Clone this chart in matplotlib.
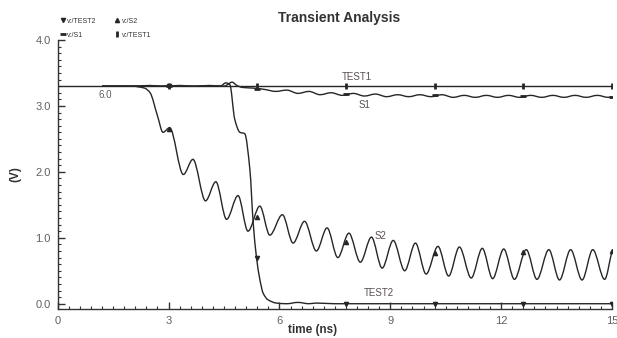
import numpy as np
import matplotlib
matplotlib.use("Agg")
import matplotlib.pyplot as plt
from matplotlib.path import Path
from matplotlib.patches import PathPatch
from matplotlib.ticker import MultipleLocator, FormatStrFormatter

plt.rcParams['font.family'] = ['Liberation Sans', 'DejaVu Sans']

# waveform key points (time in ns, volts)
test1_t = [0.0, 15.0]
test1_v = [3.3, 3.3]

s1_t = [1.2, 2.0, 2.5, 2.8, 3.3, 3.7, 4.1, 4.5, 4.72, 4.85, 5.0, 5.3, 5.6,
        5.9, 6.2, 6.5, 6.8, 7.1, 7.4, 7.7, 8.0, 8.3, 8.6, 8.9, 9.2, 9.5,
        9.8, 10.1, 10.4, 10.7, 11.0, 11.3, 11.6, 11.9, 12.2, 12.5, 12.8,
        13.1, 13.4, 13.7, 14.0, 14.3, 14.6, 14.9, 15.0]
s1_v = [3.3, 3.3, 3.31, 3.3, 3.31, 3.3, 3.31, 3.3, 3.36, 3.31, 3.28, 3.27, 3.25,
        3.22, 3.24, 3.19, 3.22, 3.17, 3.20, 3.16, 3.19, 3.15, 3.18, 3.14, 3.17, 3.14,
        3.17, 3.14, 3.17, 3.13, 3.16, 3.13, 3.16, 3.13, 3.16, 3.13, 3.16,
        3.13, 3.16, 3.13, 3.16, 3.13, 3.16, 3.13, 3.14]

s2_t = [1.2, 2.0, 2.35, 2.5, 2.7, 2.85, 3.03, 3.4, 3.66, 4.0, 4.28, 4.57,
        4.88, 5.15, 5.47, 5.74, 6.08, 6.37, 6.68, 7.0, 7.29, 7.58, 7.88,
        8.19, 8.49, 8.78, 9.08, 9.39, 9.68, 9.97, 10.29, 10.58, 10.87,
        11.19, 11.49, 11.77, 12.07, 12.36, 12.68, 12.97, 13.29, 13.58,
        13.88, 14.19, 14.48, 14.8, 15.0]
s2_v = [3.3, 3.3, 3.27, 3.2, 2.85, 2.6, 2.67, 1.96, 2.19, 1.56, 1.85, 1.28,
        1.64, 1.10, 1.48, 1.04, 1.35, 0.92, 1.25, 0.80, 1.15, 0.70, 1.07,
        0.63, 1.01, 0.54, 0.96, 0.50, 0.92, 0.45, 0.87, 0.42, 0.86,
        0.39, 0.84, 0.38, 0.83, 0.37, 0.82, 0.37, 0.82, 0.36,
        0.82, 0.36, 0.82, 0.37, 0.80]

test2_t = [1.2, 4.4, 4.55, 4.66, 4.79, 4.93, 5.06, 5.2, 5.29, 5.38, 5.47,
           5.56, 5.69, 5.92, 6.2, 6.5, 6.8, 7.0, 7.5, 15.0]
test2_v = [3.3, 3.3, 3.35, 3.32, 2.80, 2.60, 2.58, 2.04, 1.23, 0.70, 0.37,
           0.16, 0.06, 0.01, 0.0, 0.02, 0.0, 0.01, 0.0, 0.0]

# marker positions
mark_t = [3.0, 5.4, 7.8, 10.2, 12.6, 15.0]
test1_mark = [3.3, 3.3, 3.3, 3.3, 3.3, 3.3]
s1_mark = [3.3, 3.26, 3.18, 3.16, 3.15, 3.14]
s2_mark = [2.65, 1.31, 0.93, 0.77, 0.79, 0.80]
test2_mark = [3.3, 0.69, 0.0, 0.0, 0.0, 0.0]

LINE = '#262626'
GREY = '#606060'


def smooth_path(t, v):
    # monotone cubic drawn as bezier segments
    t = np.asarray(t, float)
    v = np.asarray(v, float)
    d = np.diff(v) / np.diff(t)
    m = np.zeros_like(v)
    for i in range(1, len(v) - 1):
        if d[i - 1] * d[i] > 0:
            m[i] = 2 * d[i - 1] * d[i] / (d[i - 1] + d[i])
    m[0] = d[0]
    m[-1] = d[-1]
    verts = [(t[0], v[0])]
    codes = [Path.MOVETO]
    for i in range(len(t) - 1):
        h = (t[i + 1] - t[i]) / 3
        verts += [(t[i] + h, v[i] + m[i] * h),
                  (t[i + 1] - h, v[i + 1] - m[i + 1] * h),
                  (t[i + 1], v[i + 1])]
        codes += [Path.CURVE4] * 3
    return Path(verts, codes)


fig = plt.figure(figsize=(6.17, 3.38), dpi=100)
ax = fig.add_axes([0.0935, 0.0858, 0.8984, 0.7959])

ax.plot(test1_t, test1_v, color=LINE, lw=1.0)
for t, v in [(s1_t, s1_v), (s2_t, s2_v), (test2_t, test2_v)]:
    ax.add_patch(PathPatch(smooth_path(t, v), fill=False, ec=LINE, lw=1.0))

h2, = ax.plot(mark_t, test2_mark, ls='none', marker='v', ms=3, color=LINE)
hs2, = ax.plot(mark_t, s2_mark, ls='none', marker='^', ms=3, color=LINE)
hs1, = ax.plot(mark_t, s1_mark, ls='none', marker='_', ms=4, mew=2, color=LINE)
h1, = ax.plot(mark_t, test1_mark, ls='none', marker='|', ms=4, mew=2, color=LINE)

ax.set_xlim(0, 15)
ax.set_ylim(-0.08, 4.0)
for side in ['top', 'right']:
    ax.spines[side].set_visible(False)
for side in ['left', 'bottom']:
    ax.spines[side].set_color('#333333')
    ax.spines[side].set_linewidth(1.0)

ax.xaxis.set_major_locator(MultipleLocator(3))
ax.xaxis.set_minor_locator(MultipleLocator(0.3))
ax.yaxis.set_major_locator(MultipleLocator(1))
ax.yaxis.set_minor_locator(MultipleLocator(0.1))
ax.yaxis.set_major_formatter(FormatStrFormatter('%.1f'))
ax.tick_params(which='both', direction='in', colors='#333333', labelcolor=GREY,
               labelsize=8)
ax.tick_params(which='major', length=5, width=1, pad=5)
ax.tick_params(which='minor', length=2.5, width=0.8)

ax.set_xlabel('time (ns)', fontsize=8.5, fontweight='bold', color='#333333')
ax.xaxis.set_label_coords(0.4606, -0.078)
ax.xaxis.label.set_va('center')
ax.set_ylabel('(V)', fontsize=8.5, fontweight='bold', color='#333333')
ax.yaxis.set_label_coords(-0.076, 0.5)
ax.yaxis.label.set_va('center')
fig.text(0.549, 0.948, 'Transient Analysis', ha='center', va='center',
         fontsize=10, fontweight='bold', color='#333333')

ax.text(1.28, 3.16, '6.0', fontsize=7, color=GREY, ha='center', va='center')
ax.text(8.1, 3.44, 'TEST1', fontsize=7, color='#5a5050', ha='center', va='center')
ax.text(8.3, 3.01, 'S1', fontsize=7, color='#5a5050', ha='center', va='center')
ax.text(8.74, 1.03, 'S2', fontsize=7, color='#5a5050', ha='center', va='center')
ax.text(8.7, 0.17, 'TEST2', fontsize=7, color='#5a5050', ha='center', va='center')

fig.legend([h2, hs1, hs2, h1], ['v:/TEST2', 'v:/S1', 'v:/S2', 'v:/TEST1'],
           ncol=2, loc='upper left', bbox_to_anchor=(0.098, 0.948),
           frameon=False, fontsize=5, handlelength=0.6, handletextpad=0.4,
           columnspacing=2.6, labelspacing=1.0, borderpad=0, borderaxespad=0,
           labelcolor='#333333')

fig.savefig('out.png', dpi=100)
